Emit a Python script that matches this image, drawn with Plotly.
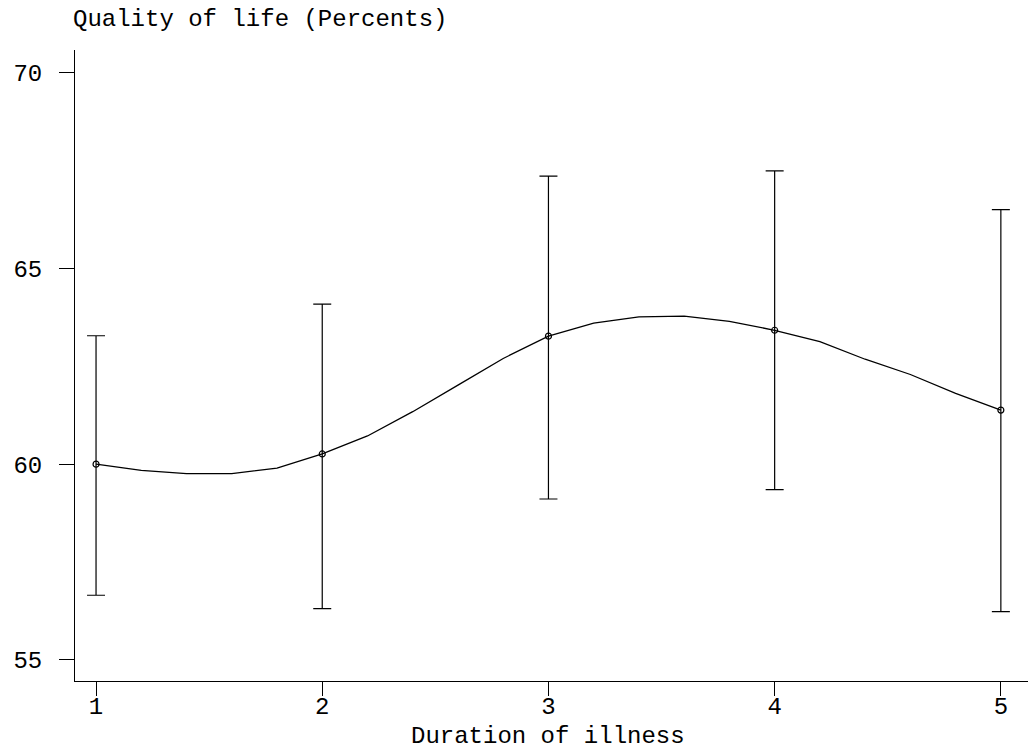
import plotly.graph_objects as go

# Data
duration = [1, 2, 3, 4, 5]
mean_qol = [60.0, 60.26, 63.27, 63.42, 61.38]
upper_ci = [63.28, 64.09, 67.36, 67.49, 66.50]
lower_ci = [56.65, 56.31, 59.11, 59.35, 56.23]

# Smoothed curve as drawn in the reference
curve_x = [1.0, 1.2, 1.4, 1.6, 1.8, 2.0, 2.2, 2.4, 2.6, 2.8, 3.0,
           3.2, 3.4, 3.6, 3.8, 4.0, 4.2, 4.4, 4.6, 4.8, 5.0]
curve_y = [60.0, 59.84, 59.76, 59.76, 59.90, 60.26, 60.72, 61.34, 62.02, 62.70, 63.27,
           63.60, 63.76, 63.78, 63.65, 63.42, 63.13, 62.68, 62.29, 61.81, 61.38]

y_ticks = [55, 60, 65, 70]
x_ticks = [1, 2, 3, 4, 5]

FONT = "Liberation Mono"
FS = 24

fig = go.Figure()
fig.add_trace(go.Scatter(
    x=curve_x, y=curve_y, mode="lines",
    line=dict(color="black", width=1.3),
    hoverinfo="skip", showlegend=False,
))
fig.add_trace(go.Scatter(
    x=duration, y=mean_qol, mode="markers",
    marker=dict(symbol="circle-open", size=6, color="black", line=dict(width=1.2, color="black")),
    error_y=dict(
        type="data", symmetric=False,
        array=[u - m for u, m in zip(upper_ci, mean_qol)],
        arrayminus=[m - l for m, l in zip(mean_qol, lower_ci)],
        color="black", thickness=1.2, width=9,
    ),
    showlegend=False,
))

fig.update_layout(
    width=1028, height=749,
    margin=dict(l=75, r=0, t=50, b=68),
    paper_bgcolor="white", plot_bgcolor="white",
    font=dict(family=FONT, size=FS, color="black"),
    xaxis=dict(
        range=[0.907, 5.12], tickvals=x_ticks, ticks="outside", ticklen=14,
        tickcolor="black", tickwidth=1, showline=True, linecolor="black", linewidth=1,
        showgrid=False, zeroline=False, ticklabelstandoff=-11,
        tickfont=dict(family=FONT, size=FS),
    ),
    yaxis=dict(
        range=[54.46, 70.58], tickvals=y_ticks, ticks="outside", ticklen=15,
        tickcolor="black", tickwidth=1, showline=True, linecolor="black", linewidth=1,
        showgrid=False, zeroline=False, ticklabelstandoff=12,
        tickfont=dict(family=FONT, size=FS),
    ),
    annotations=[
        dict(
            text="Quality of life (Percents)", xref="paper", yref="paper",
            x=0, y=1, xanchor="left", yanchor="bottom", xshift=-4, yshift=15,
            showarrow=False, font=dict(family=FONT, size=FS, color="black"),
        ),
        dict(
            text="Duration of illness", xref="x", yref="paper",
            x=3, y=0, xanchor="center", yanchor="middle", yshift=-55,
            showarrow=False, font=dict(family=FONT, size=FS, color="black"),
        ),
    ],
)

fig.write_html("out.html")
